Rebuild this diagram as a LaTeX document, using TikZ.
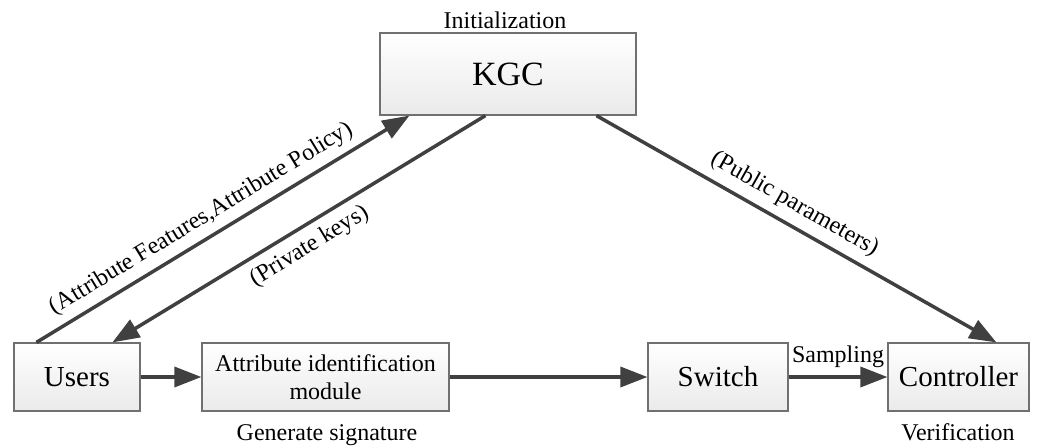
\documentclass[tikz,border=0pt]{standalone}
\usepackage{fontspec}
\setmainfont{Liberation Serif}
\usetikzlibrary{arrows.meta}
\definecolor{boxline}{RGB}{112,112,112}
\definecolor{boxbottom}{RGB}{234,234,234}
\definecolor{wire}{RGB}{64,64,64}
\tikzset{
  block/.style={draw=boxline, line width=1.2pt, top color=white, bottom color=boxbottom,
    inner sep=0pt, minimum height=68pt, align=center,
    font=\fontsize{29}{32}\selectfont},
  note/.style={inner sep=0pt, font=\fontsize{24}{28}\selectfont},
  flow/.style={draw=wire, line width=3.5pt,
    -{Triangle[length=27pt,width=20pt]}, shorten >=0pt},
  tag/.style={note, sloped}
}
\begin{document}
\begin{tikzpicture}[x=1pt,y=-1pt]
\useasboundingbox (0,0) rectangle (1037,447);

% boxes
\node[block, minimum width=256pt, minimum height=82pt,
      font=\fontsize{34}{38}\selectfont] (kgc) at (508,74) {KGC};
\node[block, minimum width=126pt] (users) at (77,377) {Users};
\node[block, minimum width=247pt, font=\fontsize{24}{28}\selectfont] (aim) at (325.5,377)
  {Attribute identification\\module};
\node[block, minimum width=140pt] (switch) at (718,377) {Switch};
\node[block, minimum width=141pt] (ctrl) at (958.5,377) {Controller};

% captions
\node[note, anchor=base] (init) at (505,28) {Initialization};
\node[note, anchor=base] (gen) at (327,440) {Generate signature};
\node[note, anchor=base] (ver) at (958,440) {Verification};

% connectors
\draw[flow] (users) -- (aim);
\draw[flow] (aim) -- (switch);
\draw[flow] (switch) -- node[note, anchor=base, yshift=15pt] (samp) {Sampling} (ctrl);

\draw[flow] ([xshift=23pt]users.north west) -- ([xshift=30pt]kgc.south west)
  node[tag, pos=0.47, above=7pt] (lblattr) {(Attribute Features,Attribute Policy)};
\draw[flow] ([xshift=106pt]kgc.south west) -- ([xshift=99pt]users.north west)
  node[tag, pos=0.5, below=8pt] (lblkey) {(Private keys)};
\draw[flow] ([xshift=217pt]kgc.south west) -- ([xshift=109pt]ctrl.north west)
  node[tag, pos=0.47, above=8pt] (lblpub) {(Public parameters)};
\end{tikzpicture}
\end{document}
